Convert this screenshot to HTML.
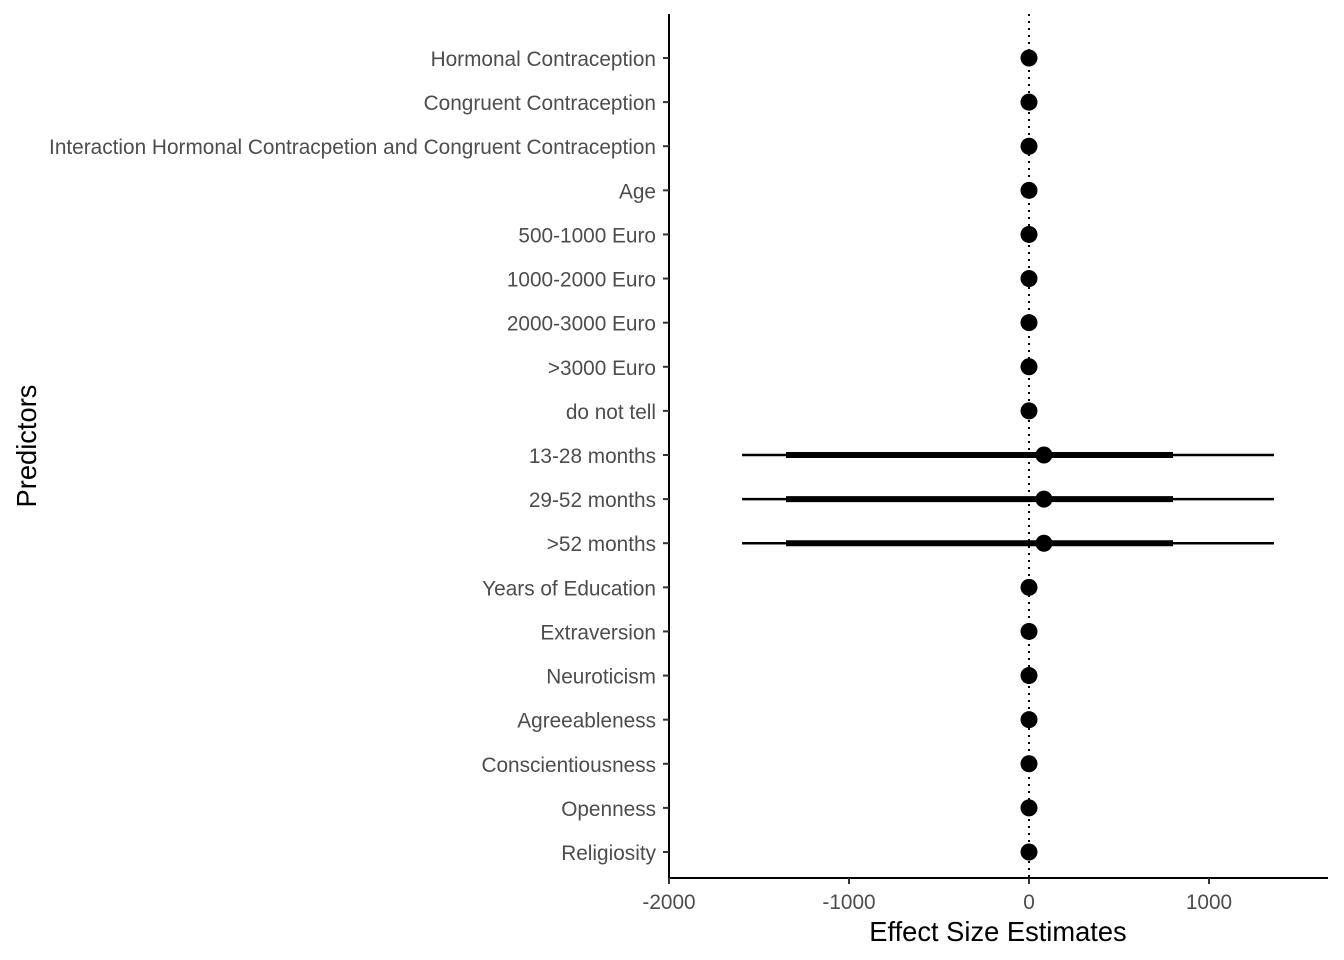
<!DOCTYPE html>
<html><head><meta charset="utf-8"><style>
body{margin:0;background:#fff}
svg{display:block;font-family:"Liberation Sans",Arial,sans-serif}
</style></head><body>
<svg id="chart" width="1344" height="960">
<g id="plot"></g>
</svg>
<script>
const categories=["Hormonal Contraception","Congruent Contraception","Interaction Hormonal Contracpetion and Congruent Contraception","Age","500-1000 Euro","1000-2000 Euro","2000-3000 Euro",">3000 Euro","do not tell","13-28 months","29-52 months",">52 months","Years of Education","Extraversion","Neuroticism","Agreeableness","Conscientiousness","Openness","Religiosity"];
const estimates=[0,0,0,0,0,0,0,0,0,83,83,83,0,0,0,0,0,0,0];
const ciOuterLow=[0,0,0,0,0,0,0,0,0,-1594,-1594,-1594,0,0,0,0,0,0,0];
const ciOuterHigh=[0,0,0,0,0,0,0,0,0,1361,1361,1361,0,0,0,0,0,0,0];
const ciInnerLow=[0,0,0,0,0,0,0,0,0,-1350,-1350,-1350,0,0,0,0,0,0,0];
const ciInnerHigh=[0,0,0,0,0,0,0,0,0,800,800,800,0,0,0,0,0,0,0];
const xTicks=[-2000,-1000,0,1000];

const NS="http://www.w3.org/2000/svg";
const g=document.getElementById('plot');
const x=v=>1029+v*0.18;
const y=i=>58+i*(852-58)/(categories.length-1);
function mk(tag,attrs,parent){const e=document.createElementNS(NS,tag);for(const k in attrs)e.setAttribute(k,attrs[k]);(parent||g).appendChild(e);return e;}

let zl=mk('line',{x1:x(0),x2:x(0),y1:14,y2:878,stroke:'#000','stroke-width':2,'stroke-dasharray':'2,5'});


let ya=mk('line',{x1:669,x2:669,y1:14,y2:879,stroke:'#000','stroke-width':2});


let xa=mk('line',{x1:668,x2:1328,y1:878,y2:878,stroke:'#000','stroke-width':2});



xTicks.forEach(t=>{
  let tk=mk('line',{x1:x(t),x2:x(t),y1:878,y2:884,stroke:'#333','stroke-width':2});
  
  
  let tl=mk('text',{x:x(t),y:909,'text-anchor':'middle','font-size':20.8,fill:'#4d4d4d'});
  tl.textContent=t;
  
  
});

categories.forEach((c,i)=>{
  const yy=y(i);
  let tk=mk('line',{x1:663,x2:669,y1:yy,y2:yy,stroke:'#333','stroke-width':2});
  
  
  let tl=mk('text',{x:656,y:yy+8,'text-anchor':'end','font-size':20.8,fill:'#4d4d4d'});
  tl.textContent=c;
  
  
  if(ciOuterHigh[i]!==ciOuterLow[i]){
    let o=mk('line',{x1:x(ciOuterLow[i]),x2:x(ciOuterHigh[i]),y1:yy,y2:yy,stroke:'#000','stroke-width':2.5});
    
    
  }
  if(ciInnerHigh[i]!==ciInnerLow[i]){
    let n=mk('line',{x1:x(ciInnerLow[i]),x2:x(ciInnerHigh[i]),y1:yy,y2:yy,stroke:'#000','stroke-width':6});
    
    
  }
  let p=mk('circle',{cx:x(estimates[i]),cy:yy,r:8.5,fill:'#000'});
  
  
});

let xt=mk('text',{x:998,y:941,'text-anchor':'middle','font-size':27.3,fill:'#000'});
xt.textContent='Effect Size Estimates';


let yt=mk('text',{x:0,y:0,'text-anchor':'middle','font-size':27.3,fill:'#000',transform:'translate(36,446) rotate(-90)'});
yt.textContent='Predictors';


</script>
</body></html>
